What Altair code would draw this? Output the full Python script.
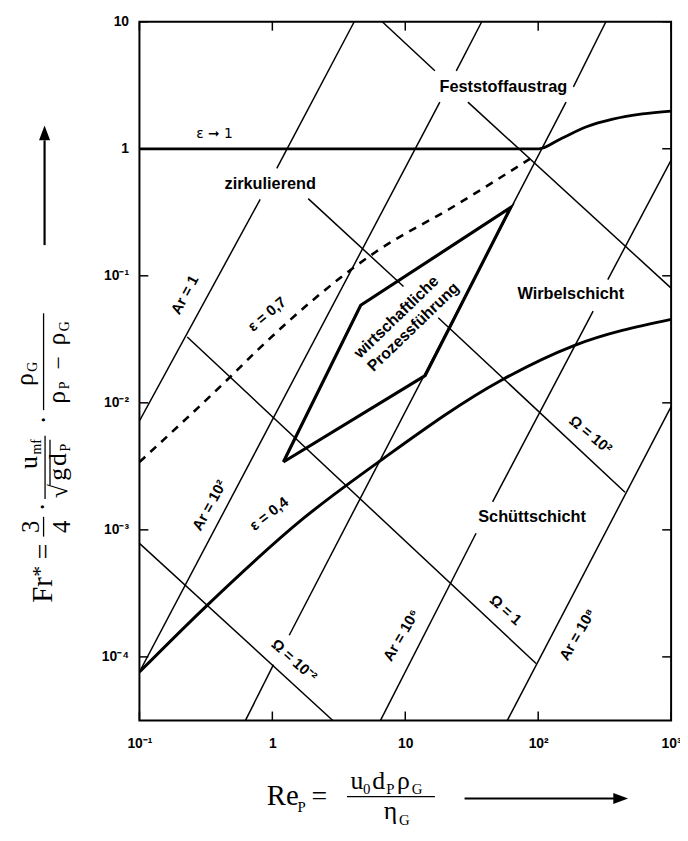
import altair as alt
import pandas as pd

# ---------------- axis ticks / domains ----------------
X_TICKS = [0.1, 1, 10, 100, 1000]
Y_TICKS = [0.0001, 0.001, 0.01, 0.1, 1, 10]
X_DOMAIN = [0.1, 1000]
Y_DOMAIN = [3.16e-5, 10]

# ---------------- thin lines (Re_P, Fr*) ----------------
ar_1_a = [(0.1, 0.0072), (0.81, 0.40)]
ar_1_b = [(1.08, 0.70), (4.13, 10)]
ar_1e2_a = [(0.1, 7.6e-5), (18.2, 2.33)]
ar_1e2_b = [(24.2, 4.11), (37.6, 10)]
ar_1e4_a = [(0.628, 3.16e-5), (1.02, 8.7e-5)]
ar_1e4_b = [(1.34, 1.48e-4), (162, 2.33)]
ar_1e4_c = [(184, 3.07), (323, 10)]
ar_1e6_a = [(6.51, 3.16e-5), (34.1, 9.4e-4)]
ar_1e6_b = [(45.4, 1.66e-3), (259, 0.0527)]
ar_1e6_c = [(334, 0.0933), (1000, 0.815)]
ar_1e8 = [(58.6, 3.16e-5), (1000, 0.00933)]
om_1em2 = [(0.1, 7.83e-4), (2.85, 3.16e-5)]
om_1 = [(0.229, 0.033), (96.4, 8.87e-5)]
om_1e2_a = [(1.86, 0.405), (9.7, 0.0824)]
om_1e2_b = [(17.7, 0.0468), (450, 1.98e-3)]
om_1e4_a = [(6.71, 10), (16.7, 4.11)]
om_1e4_b = [(29.6, 2.33), (1000, 0.080)]

# ---------------- thick curves ----------------
eps_1 = [(0.1, 1), (50, 1), (101, 1), (146, 1.19), (231, 1.49), (364, 1.71), (608, 1.88), (1000, 1.98)]
eps_04 = [(0.1, 7.6e-5), (0.326, 2.57e-4), (1.71, 1.23e-3), (6.41, 3.47e-3), (52.4, 0.0150), (184, 0.0281), (1000, 0.0454)]
eps_07 = [(0.1, 3.42e-3), (0.485, 0.0161), (0.767, 0.0258), (5.98, 0.154), (23.6, 0.356), (92.7, 0.871)]
quad = [(1.21, 3.42e-3), (4.62, 0.0586), (62.1, 0.345), (14.1, 0.0164), (1.21, 3.42e-3)]

# ---------------- labels (text, Re_P, Fr*, angle) ----------------
region_labels = [
    ("zirkulierend", 0.964, 0.531, 0),
    ("Feststoffaustrag", 54.7, 3.07, 0),
    ("Wirbelschicht", 176, 0.0714, 0),
    ("Schüttschicht", 90, 1.27e-3, 0),
]
quad_labels = [
    ("wirtschaftliche", 8.57, 0.0473, 316),
    ("Prozessführung", 11.5, 0.0395, 316),
]
line_labels = [
    ("Ar = 1", 0.219, 0.071, 298),
    ("ε = 0,7", 0.910, 0.0499, 320),
    ("Ar = 10²", 0.336, 1.56e-3, 299),
    ("ε = 0,4", 0.942, 1.34e-3, 322),
    ("Ω = 10⁻²", 1.46, 9.4e-5, 42),
    ("Ar = 10⁶", 9.31, 1.48e-4, 300),
    ("Ω = 1", 57.0, 2.34e-4, 42),
    ("Ar = 10⁸", 197, 1.50e-4, 300),
    ("Ω = 10²", 248, 5.62e-3, 40),
]
eps1_label = [("ε ➞ 1", 0.367, 1.30, 0)]


def seg_df(named):
    rows = []
    for name, pts in named.items():
        for i, (re, fr) in enumerate(pts):
            rows.append({"seg": name, "i": i, "Re": re, "Fr": fr})
    return pd.DataFrame(rows)


def lab_df(items):
    return pd.DataFrame([{"text": t, "Re": r, "Fr": f, "angle": a} for t, r, f, a in items])


thin_df = seg_df({
    "ar_1_a": ar_1_a, "ar_1_b": ar_1_b, "ar_1e2_a": ar_1e2_a, "ar_1e2_b": ar_1e2_b,
    "ar_1e4_a": ar_1e4_a, "ar_1e4_b": ar_1e4_b, "ar_1e4_c": ar_1e4_c,
    "ar_1e6_a": ar_1e6_a, "ar_1e6_b": ar_1e6_b, "ar_1e6_c": ar_1e6_c, "ar_1e8": ar_1e8,
    "om_1em2": om_1em2, "om_1": om_1, "om_1e2_a": om_1e2_a, "om_1e2_b": om_1e2_b,
    "om_1e4_a": om_1e4_a, "om_1e4_b": om_1e4_b,
})
eps1_df = seg_df({"eps_1": eps_1})
eps04_df = seg_df({"eps_04": eps_04})
eps07_df = seg_df({"eps_07": eps_07})
quad_df = seg_df({"quad": quad})
xt_df = pd.DataFrame({"Re": X_TICKS})
yt_df = pd.DataFrame({"Fr": Y_TICKS})

W, H = 538, 707
X0, Y0 = 141, 17  # screen position of plot origin (for annotation pieces)

xs = alt.Scale(type="log", domain=X_DOMAIN, nice=False)
ys = alt.Scale(type="log", domain=Y_DOMAIN, nice=False)

lab_common = dict(tickSize=0, domain=False, grid=False, labelFont="Liberation Sans",
                  labelFontWeight="bold", labelFontSize=14, labelColor="black",
                  title=None, labelFlush=False, labelOverlap=False)
xaxis = alt.Axis(values=X_TICKS, labelPadding=16, **lab_common,
                 labelExpr="datum.value < 0.5 ? '10⁻¹' : datum.value < 5 ? '1' : datum.value < 50 ? '10' : datum.value < 500 ? '10²' : '10³'")
yaxis = alt.Axis(values=Y_TICKS, labelPadding=11, **lab_common,
                 labelExpr="datum.value > 5 ? '10' : datum.value > 0.5 ? '1' : datum.value > 0.05 ? '10⁻¹' : datum.value > 0.005 ? '10⁻²' : datum.value > 0.0005 ? '10⁻³' : '10⁻⁴'")

X = alt.X("Re:Q", scale=xs, axis=xaxis)
Y = alt.Y("Fr:Q", scale=ys, axis=yaxis)

layers = []
layers.append(alt.Chart(thin_df).mark_line(color="black", strokeWidth=1.5, clip=True)
              .encode(x=X, y=Y, detail="seg:N", order="i:Q"))
layers.append(alt.Chart(eps1_df).mark_line(color="black", strokeWidth=2.8, interpolate="monotone", clip=True)
              .encode(x=X, y=Y, order="i:Q"))
layers.append(alt.Chart(eps04_df).mark_line(color="black", strokeWidth=3, interpolate="monotone", clip=True)
              .encode(x=X, y=Y, order="i:Q"))
layers.append(alt.Chart(eps07_df).mark_line(color="black", strokeWidth=2.6, strokeDash=[8, 7], interpolate="monotone", clip=True)
              .encode(x=X, y=Y, order="i:Q"))
layers.append(alt.Chart(quad_df).mark_line(color="black", strokeWidth=3.2, strokeJoin="miter", clip=True)
              .encode(x=X, y=Y, order="i:Q"))

# inward ticks on all four sides
layers.append(alt.Chart(xt_df).mark_rule(color="black", strokeWidth=1.5).encode(x=X, y=alt.value(H), y2=alt.value(H - 9)))
layers.append(alt.Chart(xt_df).mark_rule(color="black", strokeWidth=1.5).encode(x=X, y=alt.value(0), y2=alt.value(9)))
layers.append(alt.Chart(yt_df).mark_rule(color="black", strokeWidth=1.5).encode(y=Y, x=alt.value(0), x2=alt.value(9)))
layers.append(alt.Chart(yt_df).mark_rule(color="black", strokeWidth=1.5).encode(y=Y, x=alt.value(W), x2=alt.value(W - 9)))

# labels
layers.append(alt.Chart(lab_df(region_labels)).mark_text(font="Liberation Sans", fontWeight="bold", fontSize=16.5,
                                                          color="black", align="center", baseline="middle")
              .encode(x=X, y=Y, text="text:N", angle=alt.Angle("angle:Q", scale=None)))
layers.append(alt.Chart(lab_df(quad_labels)).mark_text(font="Liberation Sans", fontWeight="bold", fontSize=16,
                                                        color="black", align="center", baseline="middle")
              .encode(x=X, y=Y, text="text:N", angle=alt.Angle("angle:Q", scale=None)))
layers.append(alt.Chart(lab_df(line_labels)).mark_text(font="Liberation Sans", fontWeight="bold", fontSize=15,
                                                        color="black", align="center", baseline="middle")
              .encode(x=X, y=Y, text="text:N", angle=alt.Angle("angle:Q", scale=None)))
layers.append(alt.Chart(lab_df(eps1_label)).mark_text(font="DejaVu Sans", fontSize=14,
                                                       color="black", align="center", baseline="middle")
              .encode(x=X, y=Y, text="text:N"))

# ---------------- axis-title formulas (annotation pieces, screen coords) ----------------
ONE = pd.DataFrame({"k": [0]})


def piece(text, sx, sy, size, angle=0, baseline="alphabetic"):
    return alt.Chart(ONE).mark_text(text=text, font="Liberation Serif", fontSize=size, angle=angle,
                                    align="center", baseline=baseline, color="black").encode(
        x=alt.value(sx - X0), y=alt.value(sy - Y0))


def bar(x1, y1, x2, y2, w=1.3):
    return alt.Chart(ONE).mark_rule(color="black", strokeWidth=w).encode(
        x=alt.value(x1 - X0), y=alt.value(y1 - Y0), x2=alt.value(x2 - X0), y2=alt.value(y2 - Y0))


def head(sx, sy, path):
    return alt.Chart(ONE).mark_point(shape=path, filled=True, color="black", size=225, opacity=1).encode(
        x=alt.value(sx - X0), y=alt.value(sy - Y0))


# x title: Re_P = u0 dP rhoG / etaG
xt_pieces = [
    ("Re", 286, 810, 29), ("P", 305, 817, 15), ("=", 323, 810, 28),
    ("u", 361, 793, 26), ("0", 371, 798, 15), ("d", 383, 793, 26), ("P", 395, 798, 15),
    ("ρ", 408, 793, 26), ("G", 422, 798, 15),
    ("η", 395, 824, 26), ("G", 409, 830, 15),
]
for t, sx, sy, s in xt_pieces:
    layers.append(piece(t, sx, sy, s))
layers.append(bar(351, 801, 440, 801))
layers.append(bar(470, 803, 624, 803, 2.2))
layers.append(head(628, 803, "M 1 0 L -1 -0.75 L -1 0.75 Z"))

# y title: Fr* = 3/4 . u_mf/sqrt(g d_P) . rho_G/(rho_P - rho_G)  (rotated)
yt_pieces = [
    ("Fr", 53, 592, 29), ("*", 47, 573, 22), ("=", 53, 553, 28),
    ("3", 39, 528, 25), ("4", 71, 528, 25), ("·", 53, 508, 28),
    ("u", 37, 463, 26), ("mf", 41, 447, 14),
    ("√", 68, 492, 26), ("g", 67, 475, 26), ("d", 67, 460, 26), ("P", 71, 448, 14),
    ("·", 54, 420, 28),
    ("ρ", 33, 379, 26), ("G", 37, 366, 14),
    ("ρ", 66, 397, 26), ("P", 70, 385, 14), ("−", 67, 362, 24), ("ρ", 66, 338, 26), ("G", 70, 325, 14),
]
for t, sx, sy, s in yt_pieces:
    layers.append(piece(t, sx, sy, s, angle=270))
layers.append(bar(44, 518, 44, 538))
layers.append(bar(45.5, 436, 45.5, 500))
layers.append(bar(50.5, 440, 50.5, 486))
layers.append(bar(44, 312, 44, 410))
layers.append(bar(45, 137, 45, 243, 2.2))
layers.append(head(45, 129.5, "M 0 -1 L 0.75 1 L -0.75 1 Z"))

chart = alt.layer(*layers).properties(
    width=W, height=H,
    padding={"left": 133, "top": 9, "right": 9, "bottom": 110},
    autosize=alt.AutoSizeParams(type="none"),
    background="white",
).configure_view(stroke="black", strokeWidth=2)

chart.save("out.html", embed_options={"renderer": "svg", "actions": False})
